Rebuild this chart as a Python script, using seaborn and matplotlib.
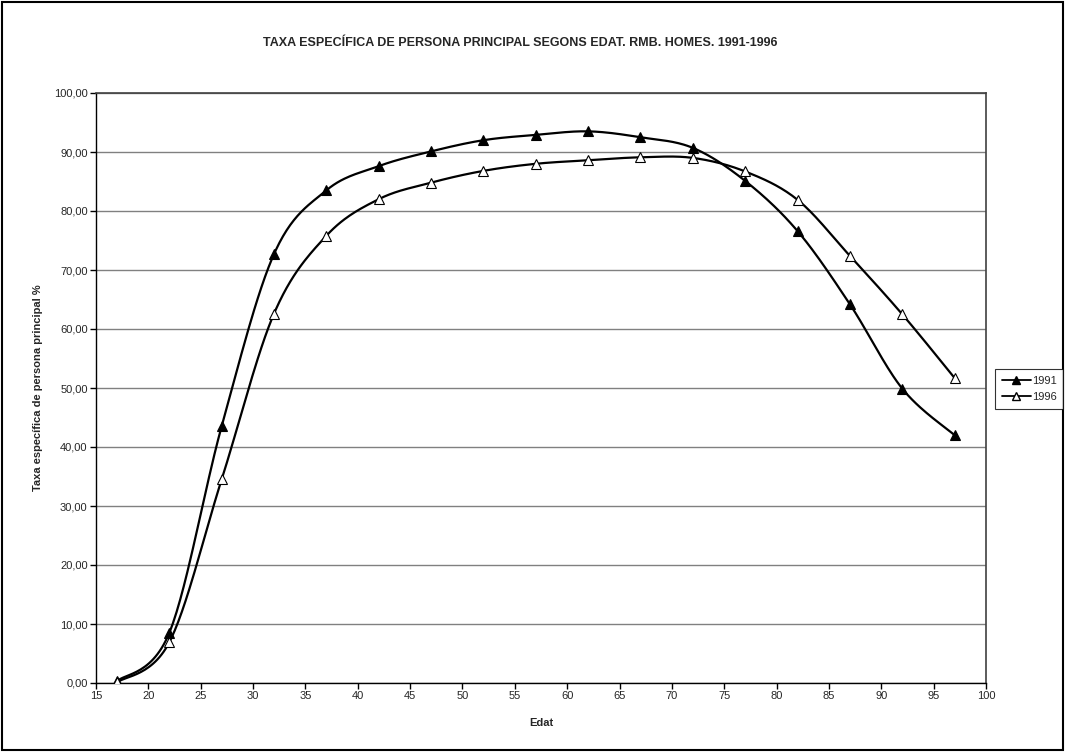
import numpy as np
import pandas as pd
import matplotlib
matplotlib.use("Agg")
import matplotlib.pyplot as plt
from matplotlib.lines import Line2D
from matplotlib.patches import Rectangle
from matplotlib.ticker import FuncFormatter, MultipleLocator
import seaborn as sns

edat = [17, 22, 27, 32, 37, 42, 47, 52, 57, 62, 67, 72, 77, 82, 87, 92, 97]
taxa_1991 = [0.3, 8.5, 43.5, 72.7, 83.5, 87.6, 90.1, 92.0, 92.9, 93.5, 92.5, 90.7, 85.1, 76.6, 64.2, 49.9, 42.0]
taxa_1996 = [0.1, 6.9, 34.5, 62.6, 75.8, 82.0, 84.8, 86.8, 88.0, 88.6, 89.1, 89.0, 86.7, 81.9, 72.4, 62.5, 51.7]
series = ["1991", "1996"]
title = "TAXA ESPECÍFICA DE PERSONA PRINCIPAL SEGONS EDAT. RMB. HOMES. 1991-1996"
xlabel = "Edat"
ylabel = "Taxa específica de persona principal %"

sns.set_theme(style="white")
plt.rcParams['font.family'] = ['Liberation Sans', 'DejaVu Sans']


def smooth(xs, ys, n=30):
    # Excel-style smoothed line (cubic Bezier, Catmull-Rom control points)
    xs = np.asarray(xs, float); ys = np.asarray(ys, float)
    px = np.concatenate([[xs[0]], xs, [xs[-1]]])
    py = np.concatenate([[ys[0]], ys, [ys[-1]]])
    ox, oy = [], []
    t = np.linspace(0, 1, n)
    for i in range(1, len(px) - 2):
        p0 = np.array([px[i], py[i]]); p3 = np.array([px[i + 1], py[i + 1]])
        c1 = p0 + (np.array([px[i + 1], py[i + 1]]) - np.array([px[i - 1], py[i - 1]])) / 6
        c2 = p3 - (np.array([px[i + 2], py[i + 2]]) - np.array([px[i], py[i]])) / 6
        b = ((1 - t) ** 3)[:, None] * p0 + (3 * (1 - t) ** 2 * t)[:, None] * c1 + \
            (3 * (1 - t) * t ** 2)[:, None] * c2 + (t ** 3)[:, None] * p3
        if i > 1:
            b = b[1:]
        ox.extend(b[:, 0]); oy.extend(b[:, 1])
    return np.array(ox), np.array(oy)


fig = plt.figure(figsize=(10.65, 7.52), dpi=100)
ax = fig.add_axes([96 / 1065, 1 - 683 / 752, (986 - 96) / 1065, (683 - 93) / 752])

for name, vals, face in [("1991", taxa_1991, "black"), ("1996", taxa_1996, "white")]:
    sx, sy = smooth(edat, vals)
    df = pd.DataFrame({"x": sx, "y": sy})
    sns.lineplot(data=df, x="x", y="y", ax=ax, color="black", linewidth=1.6, sort=False,
                 estimator=None, legend=False)
    pts = pd.DataFrame({"x": edat, "y": vals})
    ax.plot(pts["x"], pts["y"], linestyle="none", marker="^", markersize=7,
            markerfacecolor=face, markeredgecolor="black", markeredgewidth=0.8, zorder=5)

ax.set_xlim(15, 100)
ax.set_ylim(0, 100)
ax.xaxis.set_major_locator(MultipleLocator(5))
ax.yaxis.set_major_locator(MultipleLocator(10))
ax.yaxis.set_major_formatter(FuncFormatter(lambda v, p: f"{v:.2f}".replace(".", ",")))
ax.yaxis.grid(True, color="#808080", linewidth=1.0)
ax.xaxis.grid(False)
ax.set_axisbelow(True)
ax.tick_params(axis="both", which="major", labelsize=8, length=4, width=1, color="black",
               direction="out", bottom=True, left=True, pad=2)
for s in ["left", "bottom"]:
    ax.spines[s].set_color("black"); ax.spines[s].set_linewidth(1.0)
for s in ["top", "right"]:
    ax.spines[s].set_color("#404040"); ax.spines[s].set_linewidth(1.2)

ax.set_xlabel(xlabel, fontsize=8, fontweight="bold", labelpad=12)
ax.set_ylabel(ylabel, fontsize=8, fontweight="bold", labelpad=8)

fig.text(520 / 1065, 1 - 43 / 752, title, ha="center", va="center", fontsize=9, fontweight="bold")

handles = [Line2D([0], [0], color="black", lw=1.3, marker="^", markersize=6, markerfacecolor=f,
                  markeredgecolor="black") for f in ("black", "white")]
leg = fig.legend(handles, series, loc="center left", bbox_to_anchor=(995 / 1065, 1 - 389 / 752),
                 fontsize=8, frameon=True, fancybox=False, handlelength=2.6, handletextpad=0.1,
                 borderpad=0.6, labelspacing=0.6, borderaxespad=0)
leg.get_frame().set_edgecolor("black")
leg.get_frame().set_linewidth(0.8)

fig.patches.append(Rectangle((0.002, 0.002), 0.996, 0.996, transform=fig.transFigure,
                             fill=False, edgecolor="black", linewidth=1.5))

fig.savefig("out.png", dpi=100)
